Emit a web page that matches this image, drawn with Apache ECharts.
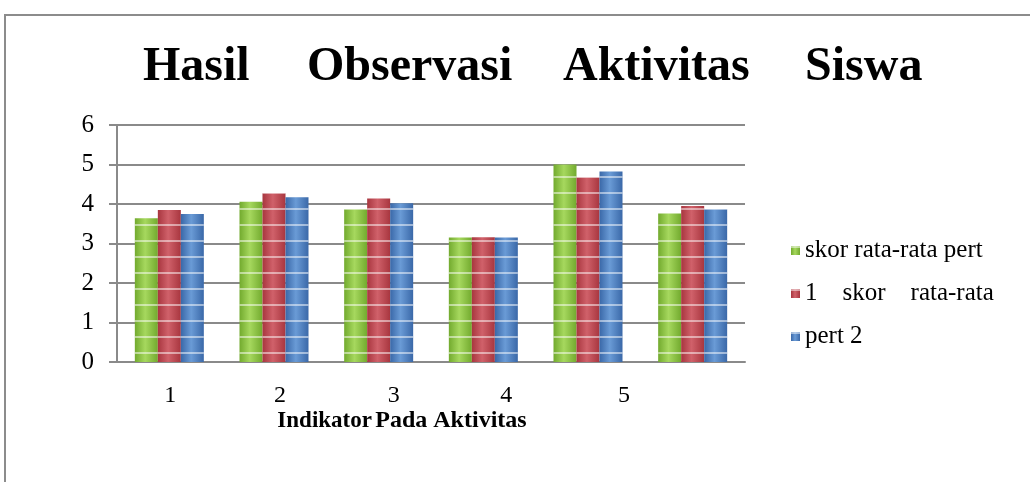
<!DOCTYPE html>
<html>
<head>
<meta charset="utf-8">
<title>Hasil Observasi Aktivitas Siswa</title>
<script src="https://cdn.jsdelivr.net/npm/echarts@6/dist/echarts.min.js"></script>
<style>
  html, body { margin: 0; padding: 0; background: #fff; }
  #chart { width: 1030px; height: 482px; }
</style>
</head>
<body>
<div id="chart"></div>
<script>
var categories = ['1', '2', '3', '4', '5', ''];
var seriesNames = ['skor rata-rata pert', '1    skor    rata-rata', 'pert 2'];
var pert1 = [3.64, 4.06, 3.87, 3.15, 5.0, 3.76];
var rataRata = [3.85, 4.27, 4.14, 3.16, 4.67, 3.95];
var pert2 = [3.75, 4.17, 4.02, 3.15, 4.82, 3.87];
var yTicks = [0, 1, 2, 3, 4, 5, 6];
var titleWords = ['Hasil', 'Observasi', 'Aktivitas', 'Siswa'];

(function() {
  var serif = 'Liberation Serif';
  var grid = '#8a8a8a';
  // word positions of the justified title
  var titleLeft = [143, 307, 563, 805];
  // the labels under the bars drift right in the source
  var labelShift = [1, 6, 15, 23, 36, 0];

  function barFill(dark, light) {
    return {
      type: 'linear', x: 0, y: 0, x2: 1, y2: 0,
      colorStops: [
        { offset: 0, color: dark },
        { offset: 0.45, color: light },
        { offset: 1, color: dark }
      ]
    };
  }
  var decal = {
    symbol: 'rect',
    symbolSize: 1,
    dashArrayX: [1, 0],
    dashArrayY: [2, 14],
    color: 'rgba(255,255,255,0.5)'
  };

  var labelRich = {};
  labelShift.forEach(function(s, i) {
    labelRich['l' + i] = { padding: [0, 0, 0, s * 2], fontSize: 24, fontFamily: serif, color: '#000' };
  });

  var chart = echarts.init(document.getElementById('chart'));
  chart.setOption({
    animation: false,
    title: titleWords.map(function(w, i) {
      return {
        text: w,
        left: titleLeft[i],
        top: 44,
        padding: 0,
        textStyle: { fontFamily: serif, fontWeight: 'bold', fontSize: 48, color: '#000' }
      };
    }),
    graphic: [{
      type: 'rect',
      shape: { x: 5, y: 15, width: 1100, height: 600 },
      style: { fill: 'none', stroke: '#8c8c8c', lineWidth: 2 },
      silent: true
    }],
    legend: {
      orient: 'vertical',
      left: 786,
      top: 233,
      itemWidth: 9,
      itemHeight: 9,
      itemGap: 18,
      icon: 'rect',
      textStyle: { fontFamily: serif, fontSize: 25, color: '#000' },
      data: seriesNames
    },
    grid: { left: 117, right: 285, top: 125, bottom: 120 },
    xAxis: {
      type: 'category',
      data: categories,
      axisTick: { show: false },
      axisLine: { lineStyle: { color: grid, width: 2 } },
      axisLabel: {
        margin: 22,
        formatter: function(v, i) { return v === '' ? '' : '{l' + i + '|' + v + '}'; },
        rich: labelRich
      },
      name: '{a|Indikator} {b|Pada Aktivitas}',
      nameLocation: 'middle',
      nameGap: 43,
      nameTextStyle: {
        padding: [0, 58, 0, 0],
        rich: {
          a: { fontFamily: serif, fontWeight: 'bold', fontSize: 23, color: '#000' },
          b: { fontFamily: serif, fontWeight: 'bold', fontSize: 24, color: '#000' }
        }
      }
    },
    yAxis: {
      type: 'value',
      min: yTicks[0],
      max: yTicks[yTicks.length - 1],
      interval: 1,
      axisLine: { show: true, lineStyle: { color: grid, width: 2 } },
      axisTick: { show: true, length: 8, lineStyle: { color: grid, width: 2 } },
      axisLabel: { margin: 23, fontFamily: serif, fontSize: 25, color: '#000' },
      splitLine: { lineStyle: { color: grid, width: 2 } }
    },
    series: [
      {
        name: seriesNames[0], type: 'bar', data: pert1, barWidth: 23, barGap: '0%',
        itemStyle: { color: barFill('#72aa2e', '#a6d85e'), decal: decal }
      },
      {
        name: seriesNames[1], type: 'bar', data: rataRata, barWidth: 23, barGap: '0%',
        itemStyle: { color: barFill('#a8363f', '#d0616a'), decal: decal }
      },
      {
        name: seriesNames[2], type: 'bar', data: pert2, barWidth: 23, barGap: '0%',
        itemStyle: { color: barFill('#3a68a8', '#6a9bd6'), decal: decal }
      }
    ]
  });
  window.addEventListener('resize', function() { chart.resize(); });
})();
</script>
</body>
</html>
